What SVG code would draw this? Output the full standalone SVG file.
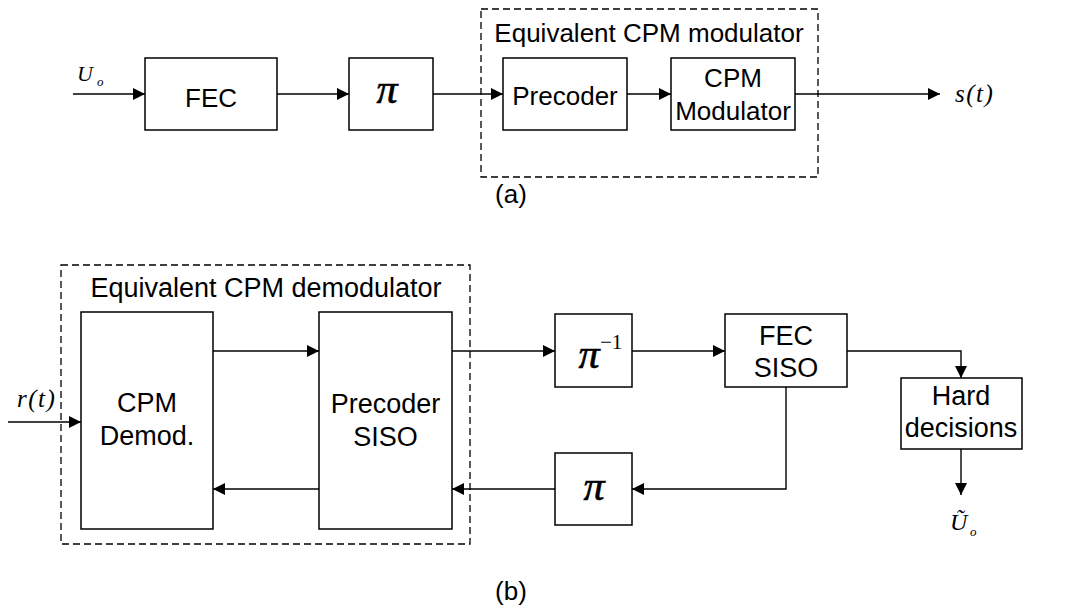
<svg xmlns="http://www.w3.org/2000/svg" width="1072" height="616" viewBox="0 0 1072 616">
<defs>
<marker id="arr" viewBox="0 0 12 12" markerWidth="12" markerHeight="12" refX="12" refY="6" orient="auto" markerUnits="userSpaceOnUse">
<path d="M0,0 L12,6 L0,12 z" fill="#000"/>
</marker>
<style>
.box{fill:#fff;stroke:#000;stroke-width:1.5}
.dash{fill:none;stroke:#000;stroke-width:1.3;stroke-dasharray:7,4}
.ln{fill:none;stroke:#000;stroke-width:1.4}
.t{font-family:"Liberation Sans",Arial,sans-serif;font-size:26px;fill:#000;text-anchor:middle}
.tb{font-family:"Liberation Sans",Arial,sans-serif;font-size:27px;fill:#000;text-anchor:middle}
.m{font-family:"Liberation Serif","Times New Roman",serif;font-style:italic;fill:#000}
.pi{font-family:"Liberation Serif","Times New Roman",serif;font-style:italic;font-size:42px;fill:#000;text-anchor:middle;stroke:#000;stroke-width:0.6}
</style>
</defs>
<rect width="1072" height="616" fill="#fff"/>

<g id="connectors">
<line class="ln" x1="73" y1="94" x2="145" y2="94" marker-end="url(#arr)"/>
<line class="ln" x1="277" y1="94" x2="349" y2="94" marker-end="url(#arr)"/>
<line class="ln" x1="433" y1="94" x2="503" y2="94" marker-end="url(#arr)"/>
<line class="ln" x1="627" y1="94" x2="671" y2="94" marker-end="url(#arr)"/>
<line class="ln" x1="795" y1="94" x2="940" y2="94" marker-end="url(#arr)"/>
<line class="ln" x1="8" y1="422" x2="81" y2="422" marker-end="url(#arr)"/>
<line class="ln" x1="213" y1="351" x2="319" y2="351" marker-end="url(#arr)"/>
<line class="ln" x1="452" y1="351" x2="555" y2="351" marker-end="url(#arr)"/>
<line class="ln" x1="632" y1="351" x2="725" y2="351" marker-end="url(#arr)"/>
<polyline class="ln" points="847,351 961,351 961,378" marker-end="url(#arr)"/>
<line class="ln" x1="961" y1="449" x2="961" y2="495" marker-end="url(#arr)"/>
<polyline class="ln" points="786,387 786,489 632,489" marker-end="url(#arr)"/>
<line class="ln" x1="555" y1="489" x2="452" y2="489" marker-end="url(#arr)"/>
<line class="ln" x1="319" y1="489" x2="213" y2="489" marker-end="url(#arr)"/>
</g>

<g id="equiv-mod">
<rect class="dash" x="481" y="9" width="337" height="168"/>
<text class="t" x="649" y="42">Equivalent CPM modulator</text>
</g>
<g id="equiv-demod">
<rect class="dash" x="61" y="265" width="409" height="279"/>
<text class="tb" x="266" y="297">Equivalent CPM demodulator</text>
</g>

<g id="uo-label">
<text class="m" x="77" y="81" font-size="22">U</text>
<text class="m" x="97" y="86" font-size="13">o</text>
</g>
<g id="fec">
<rect class="box" x="145" y="58" width="132" height="72"/>
<text class="t" x="211" y="107">FEC</text>
</g>
<g id="pi-a">
<rect class="box" x="349" y="58" width="84" height="72"/>
<text class="pi" x="387" y="103">π</text>
</g>
<g id="precoder">
<rect class="box" x="503" y="58" width="124" height="72"/>
<text class="t" x="565" y="105">Precoder</text>
</g>
<g id="cpm-mod">
<rect class="box" x="671" y="58" width="124" height="72"/>
<text class="t" x="733" y="87">CPM</text>
<text class="t" x="733" y="120">Modulator</text>
</g>
<g id="st-label">
<text class="m" x="955" y="102" font-size="25" letter-spacing="1.5">s(t)</text>
</g>
<g id="label-a">
<text class="t" x="511" y="203" font-size="25">(a)</text>
</g>

<g id="rt-label">
<text class="m" x="17" y="407" font-size="25" letter-spacing="1.5">r(t)</text>
</g>
<g id="cpm-demod">
<rect class="box" x="81" y="312" width="132" height="217"/>
<text class="tb" x="147" y="412">CPM</text>
<text class="tb" x="147" y="445">Demod.</text>
</g>
<g id="precoder-siso">
<rect class="box" x="319" y="312" width="133" height="217"/>
<text class="tb" x="385.5" y="413">Precoder</text>
<text class="tb" x="385.5" y="446">SISO</text>
</g>
<g id="pi-inv">
<rect class="box" x="555" y="314" width="77" height="73"/>
<text class="pi" x="589" y="368">π</text>
<text font-family="'Liberation Serif','Times New Roman',serif" font-size="21" x="600" y="349">−1</text>
</g>
<g id="fec-siso">
<rect class="box" x="725" y="314" width="122" height="73"/>
<text class="tb" x="786" y="345">FEC</text>
<text class="tb" x="786" y="377">SISO</text>
</g>
<g id="hard">
<rect class="box" x="901" y="378" width="121" height="71"/>
<text class="tb" x="961" y="405">Hard</text>
<text class="tb" x="961" y="437">decisions</text>
</g>
<g id="pi-b">
<rect class="box" x="555" y="453" width="77" height="72"/>
<text class="pi" x="594" y="500">π</text>
</g>
<g id="uo-tilde-label">
<text class="m" x="950" y="530" font-size="24">Ũ</text>
<text class="m" x="970" y="536" font-size="13">o</text>
</g>
<g id="label-b">
<text class="t" x="511" y="600" font-size="25">(b)</text>
</g>
</svg>
